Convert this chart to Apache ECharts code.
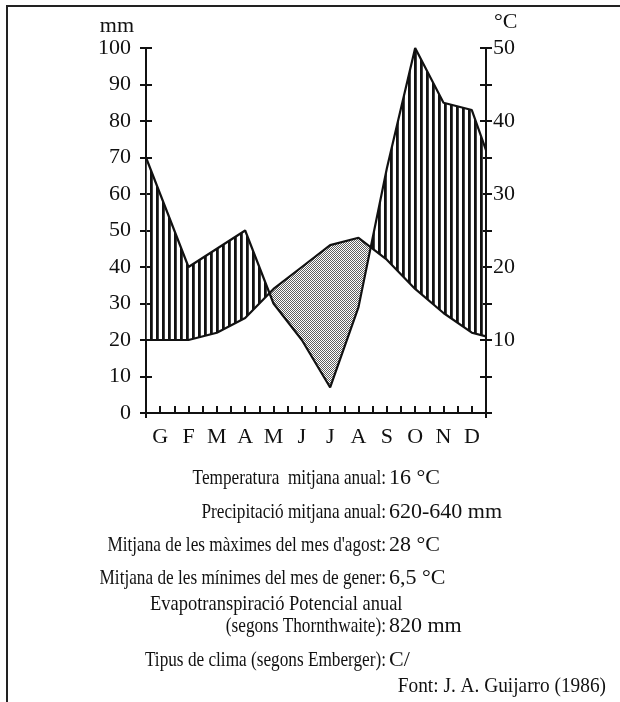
<!DOCTYPE html>
<html>
<head>
<meta charset="utf-8">
<script src="https://cdn.jsdelivr.net/npm/echarts@6/dist/echarts.min.js"></script>
<style>
  html, body { margin: 0; padding: 0; background: #ffffff; }
  #chart { width: 620px; height: 702px; }
</style>
</head>
<body>
<div id="chart"></div>
<script>
// Climate diagram (Walter-Lieth): monthly precipitation (mm) and temperature (°C)
const months = ['G', 'F', 'M', 'A', 'M', 'J', 'J', 'A', 'S', 'O', 'N', 'D'];
const precipitation = [60, 40, 45, 50, 30, 20, 7, 29, 67, 100, 85, 83];   // mm, month centres
const temperature = [10, 10, 11, 13, 17, 20, 23, 24, 21, 17, 13.7, 11];   // °C, month centres
const precipEdges = [70, 72];     // curve value at the start / end of the year axis
const tempEdges = [10, 10.5];
const mmScale = { min: 0, max: 100, step: 10 };
const degScale = { min: 0, max: 50, step: 5, labelStep: 10 };

const infoLabels = [
  'Temperatura  mitjana anual:',
  'Precipitació mitjana anual:',
  "Mitjana de les màximes del mes d'agost:",
  'Mitjana de les mínimes del mes de gener:',
  '(segons Thornthwaite):',
  'Tipus de clima (segons Emberger):'
];
const infoValues = ['16 °C', '620-640 mm', '28 °C', '6,5 °C', '820 mm', 'C/'];
const infoHeading = 'Evapotranspiració Potencial anual';
const sourceText = 'Font: J. A. Guijarro (1986)';

const FONT = '"Liberation Serif", "Times New Roman", serif';
const INK = '#111111';

// x axis runs in half-months: month i is centred at 2i+1, the year spans 0..24
const halfMonths = months.length * 2;
const precipData = [[0, precipEdges[0]]]
  .concat(precipitation.map((v, i) => [2 * i + 1, v]))
  .concat([[halfMonths, precipEdges[1]]]);
const tempData = [[0, tempEdges[0]]]
  .concat(temperature.map((v, i) => [2 * i + 1, v]))
  .concat([[halfMonths, tempEdges[1]]]);

// fill patterns: vertical hatching (humid) and fine stipple (dry)
function makePattern(w, h, draw) {
  const c = document.createElement('canvas');
  c.width = w; c.height = h;
  draw(c.getContext('2d'));
  return { image: c, repeat: 'repeat' };
}
const hatch = makePattern(6, 6, g => {
  g.fillStyle = INK; g.fillRect(0, 0, 2, 6);
  g.fillStyle = '#444444'; g.fillRect(2, 0, 1, 6);
});
const stipple = makePattern(2, 2, g => {
  g.fillStyle = '#ffffff'; g.fillRect(0, 0, 2, 2);
  g.fillStyle = '#606060'; g.fillRect(0, 0, 1, 1); g.fillRect(1, 1, 1, 1);
});

// split the band between the two curves into humid / dry regions
function bandRegions() {
  const ratio = mmScale.max / degScale.max;
  const pts = precipData.map((p, k) => ({ x: p[0], top: p[1], bot: tempData[k][1] * ratio }));
  const out = [];
  let cur = null;
  for (let k = 0; k < pts.length; k++) {
    const a = pts[k];
    if (!cur) cur = { wet: a.top >= a.bot, up: [], lo: [] };
    cur.up.push([a.x, a.top]);
    cur.lo.push([a.x, a.bot]);
    if (k + 1 < pts.length) {
      const b = pts[k + 1];
      const da = a.top - a.bot, db = b.top - b.bot;
      if ((da >= 0) !== (db >= 0)) {
        const t = da / (da - db);
        const xc = a.x + t * (b.x - a.x);
        const yc = a.top + t * (b.top - a.top);
        cur.up.push([xc, yc]);
        cur.lo.push([xc, yc]);
        out.push(cur);
        cur = { wet: db >= 0, up: [[xc, yc]], lo: [[xc, yc]] };
      }
    }
  }
  out.push(cur);
  return out;
}

const axisLineStyle = { color: INK, width: 2 };
const labelText = { fontFamily: FONT, fontSize: 22, color: INK };

const graphics = [
  { type: 'polyline', shape: { points: [[7, 702], [7, 6], [620, 6]] },
    style: { stroke: '#222222', lineWidth: 2, fill: null }, silent: true }
];
const rowY = [478, 512, 545, 578, 626, 660];
const textBase = { fill: INK, verticalAlign: 'middle' };
infoLabels.forEach((t, i) => {
  graphics.push({ type: 'text', x: 386, y: rowY[i], scaleX: 0.82,
    style: Object.assign({ text: t, font: '21px ' + FONT, align: 'right' }, textBase) });
  graphics.push({ type: 'text', x: 389, y: rowY[i],
    style: Object.assign({ text: infoValues[i], font: '22px ' + FONT, align: 'left' }, textBase) });
});
graphics.push({ type: 'text', x: 150, y: 604, scaleX: 0.88,
  style: Object.assign({ text: infoHeading, font: '21px ' + FONT, align: 'left' }, textBase) });
graphics.push({ type: 'text', x: 606, y: 686, scaleX: 0.92,
  style: Object.assign({ text: sourceText, font: '21px ' + FONT, align: 'right' }, textBase) });

const chart = echarts.init(document.getElementById('chart'), null, { renderer: 'canvas' });
chart.setOption({
  backgroundColor: '#ffffff',
  animation: false,
  grid: { left: 146, right: 134, top: 48, bottom: 289 },
  xAxis: [
    {
      type: 'value', position: 'bottom', min: 0, max: halfMonths, interval: 1,
      axisLine: { onZero: false, lineStyle: axisLineStyle },
      axisTick: { inside: true, length: 7, lineStyle: axisLineStyle },
      axisLabel: Object.assign({ margin: 13, formatter: v => (v % 2 === 1 ? months[(v - 1) / 2] : '') }, labelText),
      splitLine: { show: false }
    },
    {
      type: 'value', position: 'bottom', min: 0, max: halfMonths, interval: halfMonths,
      axisLine: { show: false, onZero: false },
      axisTick: { length: 5, lineStyle: axisLineStyle },
      axisLabel: { show: false }, splitLine: { show: false }
    }
  ],
  yAxis: [
    {
      type: 'value', position: 'left', min: mmScale.min, max: mmScale.max, interval: mmScale.step,
      name: 'mm', nameLocation: 'end', nameGap: 9,
      nameTextStyle: Object.assign({ align: 'right', padding: [0, 12, 0, 0] }, labelText),
      axisLine: { show: true, onZero: false, lineStyle: axisLineStyle },
      axisTick: { show: true, length: 6, lineStyle: axisLineStyle },
      axisLabel: Object.assign({ margin: 15 }, labelText),
      splitLine: { show: false }
    },
    {
      type: 'value', position: 'right', min: degScale.min, max: degScale.max, interval: degScale.step,
      name: '°C', nameLocation: 'end', nameGap: 15,
      nameTextStyle: Object.assign({ align: 'left', padding: [0, 0, 0, 8] }, labelText),
      axisLine: { show: true, onZero: false, lineStyle: axisLineStyle },
      axisTick: { show: true, length: 6, lineStyle: axisLineStyle },
      axisLabel: Object.assign({ margin: 7,
        formatter: v => (v > 0 && v % degScale.labelStep === 0 ? String(v) : '') }, labelText),
      splitLine: { show: false }
    },
    {
      type: 'value', position: 'left', min: mmScale.min, max: mmScale.max, interval: mmScale.step,
      axisLine: { show: false, onZero: false },
      axisTick: { show: true, inside: true, length: 6, lineStyle: axisLineStyle },
      axisLabel: { show: false }, splitLine: { show: false }
    },
    {
      type: 'value', position: 'right', min: degScale.min, max: degScale.max, interval: degScale.step,
      axisLine: { show: false, onZero: false },
      axisTick: { show: true, inside: true, length: 6, lineStyle: axisLineStyle },
      axisLabel: { show: false }, splitLine: { show: false }
    }
  ],
  series: [
    {
      type: 'custom', xAxisIndex: 0, yAxisIndex: 0, silent: true, z: 1,
      data: [[0, 0]],
      renderItem: (params, api) => ({
        type: 'group',
        children: bandRegions().map(r => ({
          type: 'polygon',
          shape: { points: r.up.concat(r.lo.slice().reverse()).map(p => api.coord(p)) },
          style: { fill: r.wet ? hatch : stipple, stroke: null }
        }))
      })
    },
    {
      name: 'Precipitació', type: 'line', xAxisIndex: 0, yAxisIndex: 0, z: 3,
      data: precipData, symbol: 'none', silent: true,
      lineStyle: { color: INK, width: 2.2 }
    },
    {
      name: 'Temperatura', type: 'line', xAxisIndex: 0, yAxisIndex: 1, z: 3,
      data: tempData, symbol: 'none', silent: true,
      lineStyle: { color: INK, width: 2.2 }
    }
  ],
  graphic: graphics
});
</script>
</body>
</html>
